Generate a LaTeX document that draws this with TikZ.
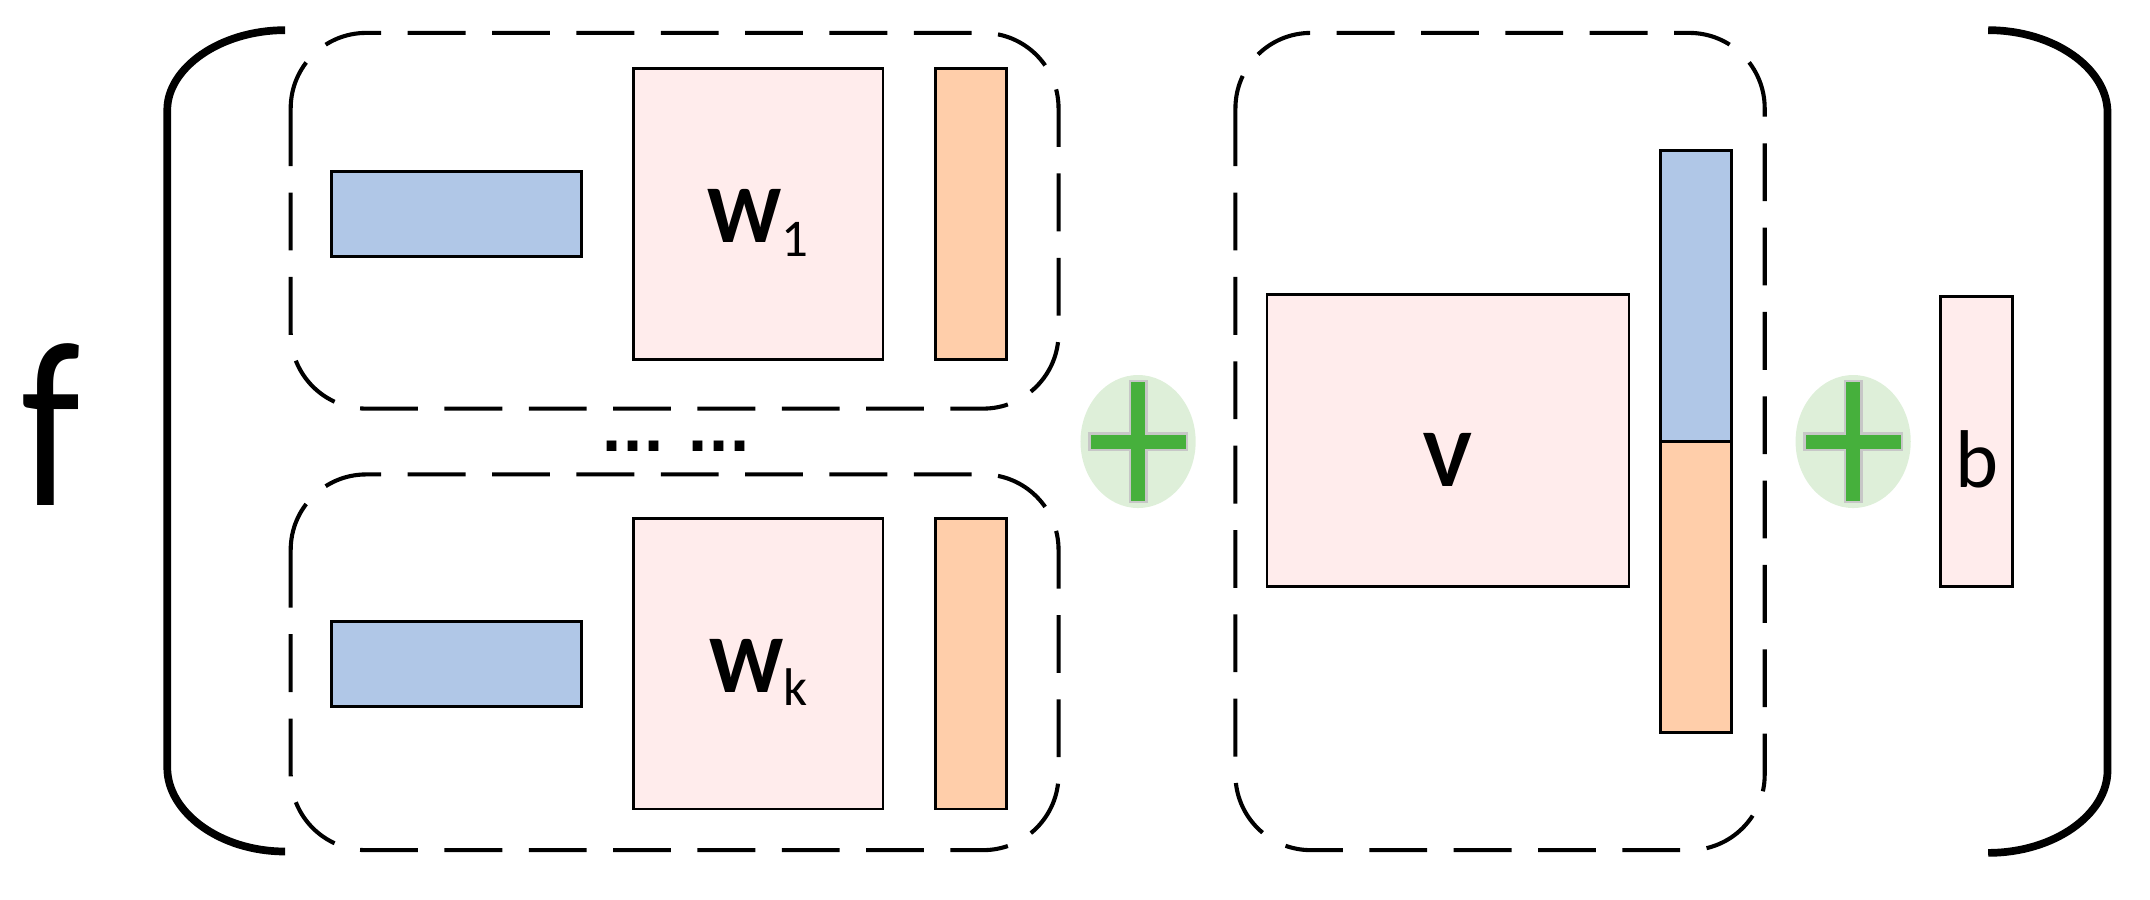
\documentclass[tikz,border=0pt]{standalone}
\usepackage{fontspec}
\setmainfont{Carlito}
\newfontfamily\dotfont{DejaVu Sans}
\usepackage{xcolor}
\usepackage{tikz}
\usetikzlibrary{shapes.geometric,calc}
\definecolor{vecblue}{RGB}{176,199,231}
\definecolor{matpink}{RGB}{255,236,236}
\definecolor{vecorange}{RGB}{255,206,170}
\definecolor{plusbg}{RGB}{222,239,217}
\definecolor{plusgreen}{RGB}{70,176,60}
\newcommand{\Wsub}[1]{\textbf{W}\raisebox{-5.5pt}{\fontsize{22}{26}\selectfont #1}}

\tikzset{
  blk/.style={draw,line width=1.2pt,inner sep=0pt,outer sep=0pt,font=\fontsize{34}{40}\selectfont},
  wide/.style={blk,minimum width=36.4mm,minimum height=12.4mm},
  tall/.style={blk,minimum width=36.4mm,minimum height=42.4mm},
  thin/.style={blk,minimum width=10.4mm,minimum height=42.4mm},
  wtext/.style={text height=24pt,text depth=0pt},
  lowtext/.style={text height=38pt,text depth=0pt},
  group/.style={line width=1.7pt,dash pattern=on 24pt off 11pt,rounded corners=11mm},
  bracket/.style={line width=3.2pt},
  plusbox/.style={ellipse,fill=plusbg,inner sep=0pt,minimum width=16.8mm,minimum height=19.4mm},
  plusmark/.style={fill=plusgreen,draw=black!22,line width=1pt}
}

\begin{document}
\begin{tikzpicture}[x=0.2mm,y=-0.2mm]
  \useasboundingbox (0,0) rectangle (1568,656);

  % Function symbol
  \node[anchor=base,inner sep=0pt,font=\fontsize{98}{110}\selectfont] (f) at (37,369) {\scalebox{0.82}[1]{f}};

  % Outer brackets
  \draw[bracket] (208,22) .. controls (160,22) and (122,50) .. (122,80) -- (122,560)
    .. controls (122,592) and (160,621) .. (208,621);
  \draw[bracket] (1450,22) .. controls (1498,22) and (1537,50) .. (1537,82) -- (1537,562)
    .. controls (1537,594) and (1498,622) .. (1450,622);

  % Dashed groups
  \draw[group] (212,24) rectangle (772,298);
  \draw[group] (212,346) rectangle (772,620);
  \draw[group] (901,24) rectangle (1287,620);

  % First group
  \node[wide,fill=vecblue] (x1) at (333,156) {};
  \node[tall,fill=matpink,wtext] (w1) at (553,156) {\Wsub{1}};
  \node[thin,fill=vecorange] (h1) at (708,156) {};

  % Dots between groups
  \node[anchor=base,inner sep=0pt,font=\dotfont\bfseries\fontsize{23}{28}\selectfont] (dots) at (493,329) {...\hspace{0.4em}...};

  % Last group
  \node[wide,fill=vecblue] (xk) at (333,484) {};
  \node[tall,fill=matpink,wtext] (wk) at (553,484) {\Wsub{k}};
  \node[thin,fill=vecorange] (hk) at (708,484) {};

  % Right group
  \node[blk,fill=matpink,lowtext,minimum width=52.8mm,minimum height=42.6mm] (v) at (1056,321.5) {\textbf{V}};
  \node[thin,fill=vecblue] (hv1) at (1237,216) {};
  \node[thin,fill=vecorange] (hv2) at (1237,428) {};

  % Bias
  \node[thin,fill=matpink,lowtext,minimum width=10.6mm] (b) at (1441.5,322) {b};

  % Plus signs
  \node[plusbox] (p1) at (830,322) {};
  \node[plusbox] (p2) at (1351.5,322) {};
  \foreach \p in {p1,p2} {
    \draw[plusmark,shift={(\p.center)}] (-35.5,-6) -- (-6,-6) -- (-6,-44) -- (6,-44) -- (6,-6)
      -- (35.5,-6) -- (35.5,6) -- (6,6) -- (6,44) -- (-6,44) -- (-6,6) -- (-35.5,6) -- cycle;
  }
\end{tikzpicture}
\end{document}
